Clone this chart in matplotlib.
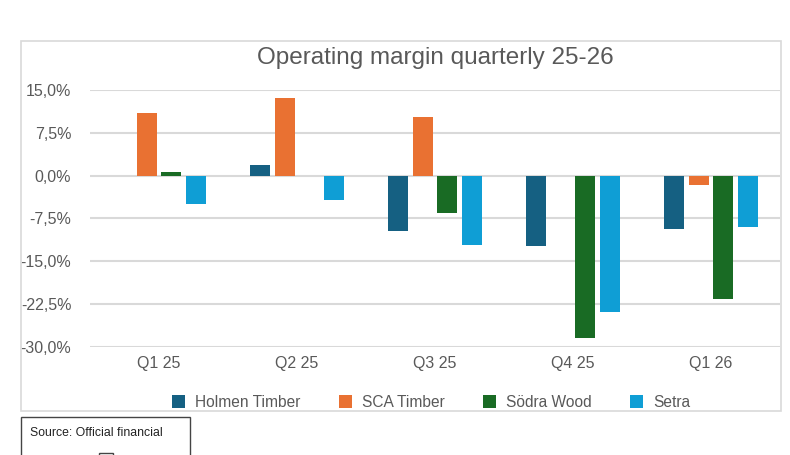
import matplotlib
matplotlib.use("Agg")
import matplotlib.pyplot as plt
from matplotlib.patches import Rectangle
import numpy as np

plt.rcParams['font.family'] = ['Liberation Sans', 'DejaVu Sans']

categories = ["Q1 25", "Q2 25", "Q3 25", "Q4 25", "Q1 26"]
series_names = ["Holmen Timber", "SCA Timber", "Södra Wood", "Setra"]
holmen = [0.0, 1.8, -9.7, -12.4, -9.3]
sca = [11.0, 13.6, 10.3, 0.0, -1.7]
sodra = [0.7, 0.0, -6.6, -28.5, -21.6]
setra = [-4.9, -4.2, -12.2, -23.9, -9.0]
yticks = [15.0, 7.5, 0.0, -7.5, -15.0, -22.5, -30.0]
ytick_labels = ["15,0%", "7,5%", "0,0%", "-7,5%", "-15,0%", "-22,5%", "-30,0%"]
title = "Operating margin quarterly 25-26"
source_text = "Source: Official financial"

colors = ["#156082", "#E97132", "#196B24", "#0F9ED5"]
text_color = "#595959"
grid_color = "#D9D9D9"

W, H = 790, 455
fig = plt.figure(figsize=(W / 100, H / 100), dpi=100)

def fx(px):
    return px / W

def fy(py):
    return 1 - py / H

# outer chart frame
fig.patches.append(Rectangle((fx(21), fy(411)), fx(781) - fx(21), fy(41) - fy(411),
                             transform=fig.transFigure, fill=False,
                             edgecolor=grid_color, linewidth=1.2))

ax = fig.add_axes([fx(90), fy(346.7), fx(780) - fx(90), fy(90) - fy(346.7)])
x = np.arange(len(categories))
pitch = 0.181
width = 0.145
all_series = [holmen, sca, sodra, setra]
handles = []
for i, (vals, name, c) in enumerate(zip(all_series, series_names, colors)):
    b = ax.bar(x + (i - 1.5) * pitch, vals, width=width, color=c, label=name, zorder=3)
    handles.append(b)

ax.set_xlim(-0.5, len(categories) - 0.5)
ax.set_ylim(-30, 15)
ax.set_yticks(yticks)
ax.set_yticklabels(ytick_labels)
ax.set_xticks(x)
ax.set_xticklabels(categories)
ax.tick_params(axis='both', length=0, labelsize=11.5, colors=text_color)
ax.tick_params(axis='y', pad=13.5)
ax.tick_params(axis='x', pad=6.5)
for s in ax.spines.values():
    s.set_visible(False)
ax.yaxis.grid(True, color=grid_color, linewidth=1.5, zorder=0)
ax.set_axisbelow(True)

fig.text(fx(435), fy(58), title, ha='center', va='center', fontsize=17.5, color=text_color)

leg = fig.legend(handles=handles, labels=series_names, loc='center',
                 bbox_to_anchor=(fx(431), fy(402.5)), ncol=4, frameon=False,
                 fontsize=11.2, handlelength=0.85, handleheight=0.85,
                 handletextpad=0.65, columnspacing=2.45, borderpad=0)
for t in leg.get_texts():
    t.set_color(text_color)

# source box
fig.patches.append(Rectangle((fx(21), fy(470)), fx(190) - fx(21), fy(417) - fy(470),
                             transform=fig.transFigure, fill=False,
                             edgecolor="#444444", linewidth=1.0, clip_on=False))
fig.text(fx(30), fy(433), source_text, ha='left', va='center', fontsize=8.8, color="#222222")
fig.patches.append(Rectangle((fx(99), fy(465)), fx(113) - fx(99), fy(453) - fy(465),
                             transform=fig.transFigure, fill=False,
                             edgecolor="#444444", linewidth=1.0))

fig.savefig("out.png", dpi=100)
